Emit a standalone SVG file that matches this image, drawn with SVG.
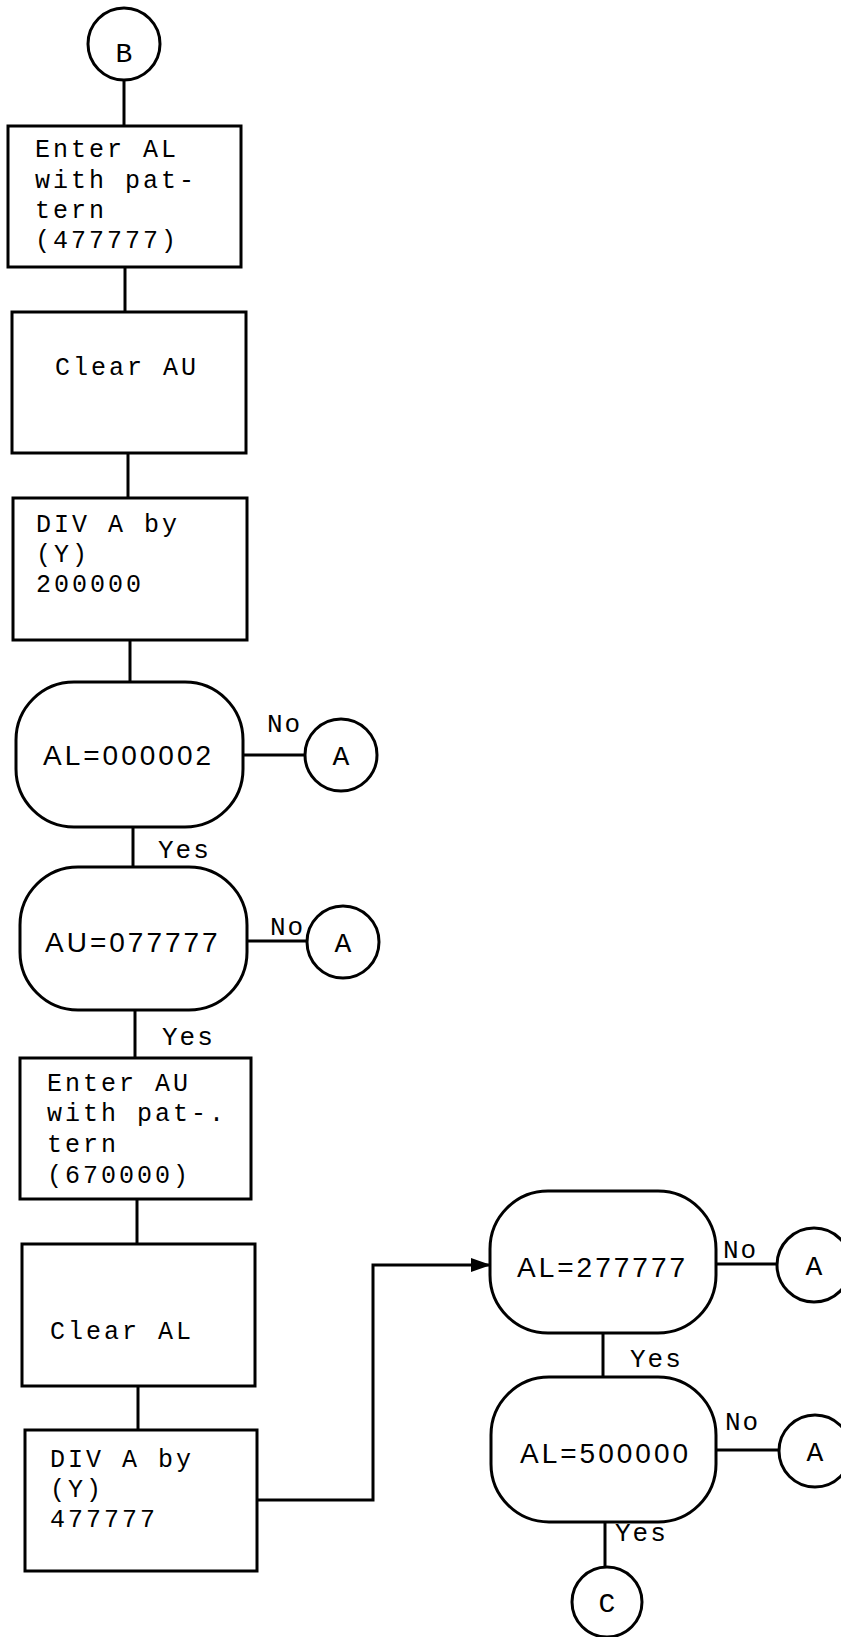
<svg xmlns="http://www.w3.org/2000/svg" width="841" height="1637" viewBox="0 0 841 1637">
<defs>
<style>
.box{fill:#fff;stroke:#000;stroke-width:3}
.con{fill:none;stroke:#000;stroke-width:3}
.t{font-family:"Liberation Mono","DejaVu Sans Mono",monospace;font-size:25px;letter-spacing:3px;fill:#000}
.d{font-family:"Liberation Sans","DejaVu Sans",sans-serif;font-size:28px;letter-spacing:3px;fill:#000}
.l{font-family:"Liberation Mono","DejaVu Sans Mono",monospace;font-size:26px;letter-spacing:2px;fill:#000}
.c{font-family:"Liberation Mono","DejaVu Sans Mono",monospace;font-size:28px;fill:#000;text-anchor:middle}
</style>
<marker id="arrow" markerWidth="20" markerHeight="14" refX="19" refY="7" orient="auto" markerUnits="userSpaceOnUse">
<path d="M0,0 L20,7 L0,14 z" fill="#000"/>
</marker>
</defs>
<rect width="841" height="1637" fill="#fff"/>
<g id="connectors">
<line class="con" x1="124" y1="80" x2="124" y2="126"/>
<line class="con" x1="125" y1="267" x2="125" y2="312"/>
<line class="con" x1="128" y1="453" x2="128" y2="498"/>
<line class="con" x1="130" y1="640" x2="130" y2="682"/>
<line class="con" x1="243" y1="755" x2="305" y2="755"/>
<line class="con" x1="133" y1="827" x2="133" y2="867"/>
<line class="con" x1="247" y1="941" x2="307" y2="941"/>
<line class="con" x1="135" y1="1010" x2="135" y2="1058"/>
<line class="con" x1="137" y1="1199" x2="137" y2="1244"/>
<line class="con" x1="138" y1="1386" x2="138" y2="1430"/>
<path class="con" d="M257,1500 H373 V1265 H490" marker-end="url(#arrow)"/>
<line class="con" x1="716" y1="1264" x2="777" y2="1264"/>
<line class="con" x1="603" y1="1333" x2="603" y2="1377"/>
<line class="con" x1="716" y1="1450" x2="779" y2="1450"/>
<line class="con" x1="605" y1="1522" x2="605" y2="1567"/>
<text class="l" x="267" y="732">No</text>
<text class="l" x="158" y="858">Yes</text>
<text class="l" x="270" y="935">No</text>
<text class="l" x="162" y="1045">Yes</text>
<text class="l" x="723" y="1258">No</text>
<text class="l" x="630" y="1367">Yes</text>
<text class="l" x="725" y="1430">No</text>
<text class="l" x="615" y="1541">Yes</text>
</g>
<g id="circleB">
<circle class="box" cx="124" cy="44" r="36"/>
<text class="c" x="124" y="62">B</text>
</g>
<g id="box1">
<rect class="box" x="8" y="126" width="233" height="141"/>
<text class="t" x="35" y="157">Enter AL</text>
<text class="t" x="35" y="188">with pat-</text>
<text class="t" x="35" y="218">tern</text>
<text class="t" x="35" y="248">(477777)</text>
</g>
<g id="box2">
<rect class="box" x="12" y="312" width="234" height="141"/>
<text class="t" x="55" y="375">Clear AU</text>
</g>
<g id="box3">
<rect class="box" x="13" y="498" width="234" height="142"/>
<text class="t" x="36" y="532">DIV A by</text>
<text class="t" x="36" y="562">(Y)</text>
<text class="t" x="36" y="592">200000</text>
</g>
<g id="dec1">
<rect class="box" x="16" y="682" width="227" height="145" rx="58" ry="58"/>
<text class="d" x="43" y="765">AL=000002</text>
</g>
<g id="circleA1">
<circle class="box" cx="341" cy="755" r="36"/>
<text class="c" x="341" y="765">A</text>
</g>
<g id="dec2">
<rect class="box" x="20" y="867" width="227" height="143" rx="58" ry="58"/>
<text class="d" x="45" y="952">AU=077777</text>
</g>
<g id="circleA2">
<circle class="box" cx="343" cy="942" r="36"/>
<text class="c" x="343" y="952">A</text>
</g>
<g id="box4">
<rect class="box" x="20" y="1058" width="231" height="141"/>
<text class="t" x="47" y="1091">Enter AU</text>
<text class="t" x="47" y="1121">with pat-.</text>
<text class="t" x="47" y="1152">tern</text>
<text class="t" x="47" y="1183">(670000)</text>
</g>
<g id="box5">
<rect class="box" x="22" y="1244" width="233" height="142"/>
<text class="t" x="50" y="1339">Clear AL</text>
</g>
<g id="box6">
<rect class="box" x="25" y="1430" width="232" height="141"/>
<text class="t" x="50" y="1467">DIV A by</text>
<text class="t" x="50" y="1497">(Y)</text>
<text class="t" x="50" y="1527">477777</text>
</g>
<g id="dec3">
<rect class="box" x="490" y="1191" width="226" height="142" rx="58" ry="58"/>
<text class="d" x="517" y="1277">AL=277777</text>
</g>
<g id="circleA3">
<circle class="box" cx="814" cy="1265" r="37"/>
<text class="c" x="814" y="1275">A</text>
</g>
<g id="dec4">
<rect class="box" x="491" y="1377" width="225" height="145" rx="58" ry="58"/>
<text class="d" x="520" y="1463">AL=500000</text>
</g>
<g id="circleA4">
<circle class="box" cx="815" cy="1451" r="36"/>
<text class="c" x="815" y="1461">A</text>
</g>
<g id="circleC">
<circle class="box" cx="607" cy="1602" r="35"/>
<text class="c" x="607" y="1612">C</text>
</g>
</svg>
